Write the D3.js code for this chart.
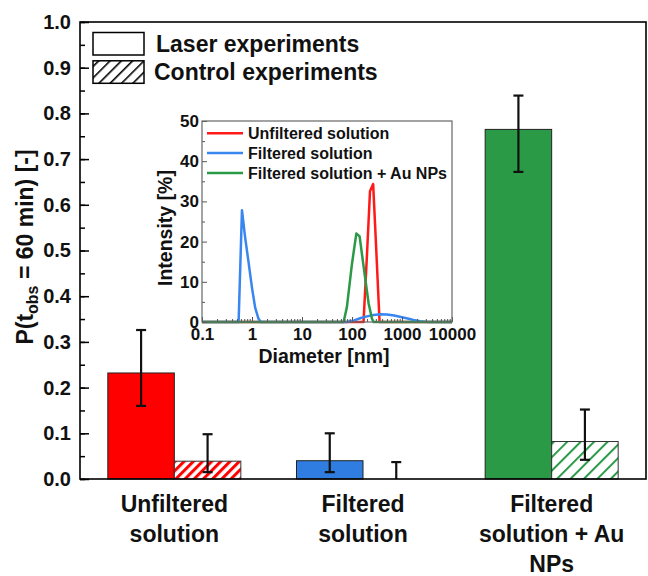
<!DOCTYPE html>
<html>
<head>
<meta charset="utf-8">
<script src="https://cdn.jsdelivr.net/npm/d3@7"></script>
<style>
  body { margin: 0; background: #fff; }
  svg { font-family: "Liberation Sans", Arial, sans-serif; font-weight: bold; }
</style>
</head>
<body>
<svg width="648" height="576"></svg>
<script>
(function () {
    'use strict';

    // main bar chart data
    var categories = ['Unfiltered solution', 'Filtered solution', 'Filtered solution + Au NPs'];
    var categoryLines = [['Unfiltered', 'solution'], ['Filtered', 'solution'], ['Filtered', 'solution + Au', 'NPs']];
    var laserValues = [0.232, 0.040, 0.765];
    var laserLow = [0.160, 0.015, 0.672];
    var laserHigh = [0.326, 0.100, 0.839];
    var controlValues = [0.039, 0.0, 0.082];
    var controlLow = [0.015, 0.0, 0.042];
    var controlHigh = [0.098, 0.037, 0.152];
    var colors = ['#ff0000', '#2f7de1', '#2a9a47'];
    var yTicks = [0, 0.1, 0.2, 0.3, 0.4, 0.5, 0.6, 0.7, 0.8, 0.9, 1.0];

    // inset DLS data: [diameter nm, intensity %]
    var unfiltered = [[0.1, 0], [170, 0], [198, 16], [229, 32.5], [265, 34.3], [308, 17], [356, 0], [10000, 0]];
    var filtered = [[0.1, 0], [0.54, 0], [0.63, 27.8], [0.73, 21], [0.85, 15], [1.0, 8.5], [1.16, 3.5],
        [1.35, 0.8], [1.5, 0], [80, 0], [110, 0.4], [150, 1.0], [200, 1.4], [270, 1.75], [370, 1.9],
        [500, 1.85], [700, 1.6], [950, 1.25], [1300, 0.85], [1700, 0.5], [2300, 0.2], [3200, 0.03],
        [4500, 0], [10000, 0]];
    var filteredAu = [[0.1, 0], [68, 0], [79, 3.7], [100, 14.5], [122, 22], [142, 21.3], [171, 13.7],
        [215, 4.6], [251, 0.8], [270, 0], [10000, 0]];
    var insetSeries = [
        { name: 'Unfiltered solution', color: '#ff1a1a', data: unfiltered },
        { name: 'Filtered solution', color: '#3a86f0', data: filtered },
        { name: 'Filtered solution + Au NPs', color: '#2a9a47', data: filteredAu }
    ];
    var insetXTicks = [0.1, 1, 10, 100, 1000, 10000];
    var insetYTicks = [0, 10, 20, 30, 40, 50];

    var svg = d3.select('svg');
    var left = 80, right = 646, top = 22, bottom = 479;

    var x = d3.scaleBand().domain(categories).range([left, right]).padding(0);
    var y = d3.scaleLinear().domain([0, 1]).range([bottom, top]);
    var barW = x.bandwidth() * 0.3525;

    // hatch patterns
    var defs = svg.append('defs');
    function hatch(id, color, size, width) {
        var p = defs.append('pattern')
            .attr('id', id)
            .attr('patternUnits', 'userSpaceOnUse')
            .attr('width', size)
            .attr('height', size)
            .attr('patternTransform', 'rotate(45)');
        p.append('rect').attr('width', size).attr('height', size).attr('fill', '#fff');
        p.append('line')
            .attr('x1', width / 2).attr('x2', width / 2)
            .attr('y1', 0).attr('y2', size)
            .attr('stroke', color)
            .attr('stroke-width', width);
    }
    hatch('hatch0', colors[0], 6.5, 3);
    hatch('hatch1', colors[1], 8, 2);
    hatch('hatch2', colors[2], 9.5, 2);
    hatch('hatchK', '#000', 8, 1.6);

    // bars
    var bars = svg.append('g');
    categories.forEach(function (c, i) {
        var cx = x(c) + x.bandwidth() / 2;
        bars.append('rect')
            .attr('x', cx - barW)
            .attr('y', y(laserValues[i]))
            .attr('width', barW)
            .attr('height', y(0) - y(laserValues[i]))
            .attr('fill', colors[i])
            .attr('stroke', '#222')
            .attr('stroke-width', 1);
        if (controlValues[i] > 0) {
            bars.append('rect')
                .attr('x', cx)
                .attr('y', y(controlValues[i]))
                .attr('width', barW)
                .attr('height', y(0) - y(controlValues[i]))
                .attr('fill', 'url(#hatch' + i + ')')
                .attr('stroke', '#333')
                .attr('stroke-width', 1);
        }
    });

    // error bars
    var errs = svg.append('g').attr('stroke', '#111').attr('stroke-width', 2.2);
    function errorBar(xc, lo, hi) {
        errs.append('line').attr('x1', xc).attr('x2', xc).attr('y1', y(lo)).attr('y2', y(hi));
        errs.append('line').attr('x1', xc - 5).attr('x2', xc + 5).attr('y1', y(hi)).attr('y2', y(hi));
        if (lo > 0) {
            errs.append('line').attr('x1', xc - 5).attr('x2', xc + 5).attr('y1', y(lo)).attr('y2', y(lo));
        }
    }
    categories.forEach(function (c, i) {
        var cx = x(c) + x.bandwidth() / 2;
        errorBar(cx - barW / 2, laserLow[i], laserHigh[i]);
        errorBar(cx + barW / 2, controlLow[i], controlHigh[i]);
    });

    // y axis
    var yMinor = d3.range(0, 1.0001, 0.05);
    svg.append('g')
        .attr('transform', 'translate(' + left + ',0)')
        .call(d3.axisLeft(y).tickValues(yMinor).tickSize(-5).tickFormat(''))
        .call(function (g) { g.select('.domain').remove(); })
        .selectAll('line').attr('stroke', '#000').attr('stroke-width', 1.5);
    var yAxis = svg.append('g')
        .attr('transform', 'translate(' + left + ',0)')
        .call(d3.axisLeft(y).tickValues(yTicks).tickSize(-9).tickPadding(9).tickFormat(d3.format('.1f')));
    yAxis.select('.domain').remove();
    yAxis.selectAll('line').attr('stroke', '#000').attr('stroke-width', 1.5);
    yAxis.selectAll('text').attr('font-size', 20).attr('font-weight', 'bold').attr('fill', '#111')
        .attr('font-family', '"Liberation Sans", Arial, sans-serif');

    // frame
    svg.append('rect')
        .attr('x', left).attr('y', top)
        .attr('width', right - left).attr('height', bottom - top)
        .attr('fill', 'none').attr('stroke', '#000').attr('stroke-width', 1.6);

    // y title
    var yt = svg.append('text')
        .attr('transform', 'translate(33,' + 247 + ') rotate(-90)')
        .attr('text-anchor', 'middle')
        .attr('font-size', 23)
        .attr('fill', '#111');
    yt.append('tspan').text('P(t');
    yt.append('tspan').attr('font-size', 16).attr('dy', 5).text('obs');
    yt.append('tspan').attr('dy', -5).text(' = 60 min) [-]');

    // category labels
    categories.forEach(function (c, i) {
        var cx = x(c) + x.bandwidth() / 2;
        var t = svg.append('text')
            .attr('text-anchor', 'middle')
            .attr('font-size', 23)
            .attr('fill', '#111');
        categoryLines[i].forEach(function (line, j) {
            t.append('tspan').attr('x', cx).attr('y', 512 + j * 30).text(line);
        });
    });

    // legend
    var legend = svg.append('g');
    [['Laser experiments', '#fff', 52], ['Control experiments', 'url(#hatchK)', 80]].forEach(function (d, i) {
        legend.append('rect')
            .attr('x', 93).attr('y', 32.5 + i * 28.3)
            .attr('width', 51).attr('height', 22.5)
            .attr('fill', d[1]).attr('stroke', '#000').attr('stroke-width', 1.5);
        legend.append('text')
            .attr('x', i === 0 ? 156 : 154).attr('y', d[2])
            .attr('font-size', 23).attr('fill', '#111')
            .text(d[0]);
    });

    // ---- inset ----
    var iL = 202, iR = 452, iT = 121, iB = 322;
    var xIn = d3.scaleLog().domain([0.1, 10000]).range([iL, iR]);
    var yIn = d3.scaleLinear().domain([0, 50]).range([iB, iT]);

    svg.append('rect')
        .attr('x', iL).attr('y', iT).attr('width', iR - iL).attr('height', iB - iT)
        .attr('fill', '#fff');

    var line = d3.line()
        .x(function (d) { return xIn(d[0]); })
        .y(function (d) { return yIn(d[1]); });
    insetSeries.forEach(function (s) {
        svg.append('path')
            .datum(s.data)
            .attr('d', line)
            .attr('fill', 'none')
            .attr('stroke', s.color)
            .attr('stroke-width', 2.5)
            .attr('stroke-linejoin', 'round');
    });

    // inset axes
    var ixMinor = svg.append('g')
        .attr('transform', 'translate(0,' + iB + ')')
        .call(d3.axisBottom(xIn).tickValues(xIn.ticks()).tickSize(-3).tickFormat(''));
    ixMinor.select('.domain').remove();
    ixMinor.selectAll('line').attr('stroke', '#555');
    var ixAxis = svg.append('g')
        .attr('transform', 'translate(0,' + iB + ')')
        .call(d3.axisBottom(xIn).tickValues(insetXTicks).tickSize(-5).tickPadding(6)
            .tickFormat(function (d) { return d < 1 ? '0.1' : String(d); }));
    ixAxis.select('.domain').remove();
    ixAxis.selectAll('line').attr('stroke', '#555');
    ixAxis.selectAll('text').attr('font-size', 17).attr('font-weight', 'bold').attr('fill', '#111')
        .attr('font-family', '"Liberation Sans", Arial, sans-serif');

    var iyMinor = svg.append('g')
        .attr('transform', 'translate(' + iL + ',0)')
        .call(d3.axisLeft(yIn).tickValues(d3.range(5, 50, 10)).tickSize(-3).tickFormat(''));
    iyMinor.select('.domain').remove();
    iyMinor.selectAll('line').attr('stroke', '#555');
    var iyAxis = svg.append('g')
        .attr('transform', 'translate(' + iL + ',0)')
        .call(d3.axisLeft(yIn).tickValues(insetYTicks).tickSize(-5).tickPadding(3));
    iyAxis.select('.domain').remove();
    iyAxis.selectAll('line').attr('stroke', '#555');
    iyAxis.selectAll('text').attr('font-size', 17).attr('font-weight', 'bold').attr('fill', '#111')
        .attr('font-family', '"Liberation Sans", Arial, sans-serif');

    svg.append('rect')
        .attr('x', iL).attr('y', iT).attr('width', iR - iL).attr('height', iB - iT)
        .attr('fill', 'none').attr('stroke', '#666').attr('stroke-width', 1.2);

    svg.append('text')
        .attr('x', (iL + iR) / 2 - 3).attr('y', 363)
        .attr('text-anchor', 'middle').attr('font-size', 19.5).attr('fill', '#111')
        .text('Diameter [nm]');
    svg.append('text')
        .attr('transform', 'translate(172,' + 228 + ') rotate(-90)')
        .attr('text-anchor', 'middle').attr('font-size', 19.5).attr('fill', '#111')
        .text('Intensity [%]');

    // inset legend
    insetSeries.forEach(function (s, i) {
        var ly = 133.3 + i * 19.8;
        svg.append('line')
            .attr('x1', 207).attr('x2', 243).attr('y1', ly).attr('y2', ly)
            .attr('stroke', s.color).attr('stroke-width', 2.5);
        svg.append('text')
            .attr('x', 248).attr('y', ly).attr('dy', '0.36em')
            .attr('font-size', 16).attr('fill', '#111')
            .text(s.name);
    });

}());
</script>
</body>
</html>
